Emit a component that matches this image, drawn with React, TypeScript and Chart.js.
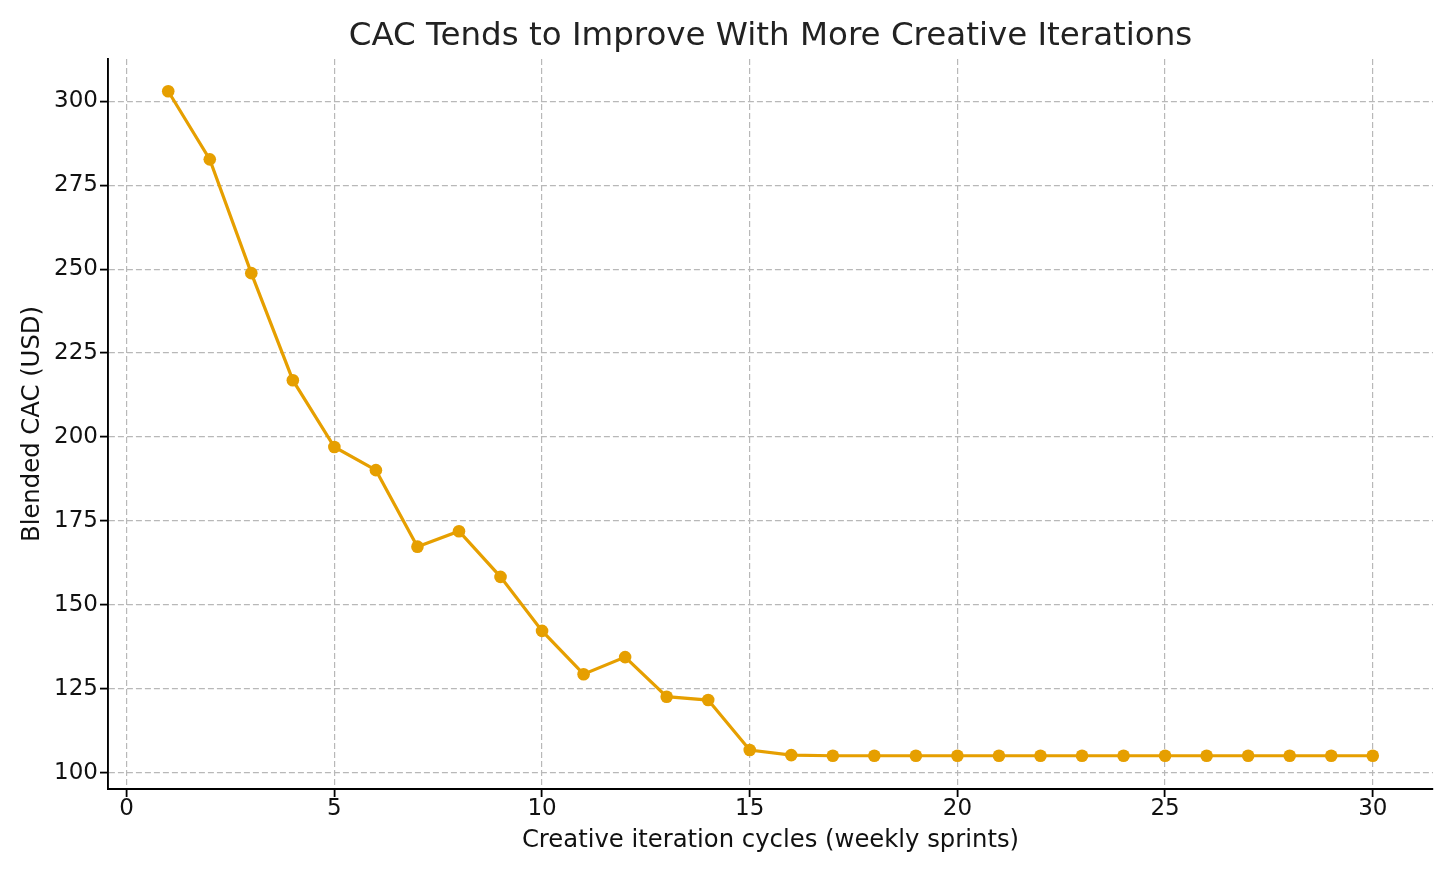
import React, { useEffect, useRef } from "react";
import { Chart, registerables } from "chart.js";

Chart.register(...registerables);

const chartTitle = "CAC Tends to Improve With More Creative Iterations";
const xAxisTitle = "Creative iteration cycles (weekly sprints)";
const yAxisTitle = "Blended CAC (USD)";

const cycles = [
  1, 2, 3, 4, 5, 6, 7, 8, 9, 10, 11, 12, 13, 14, 15,
  16, 17, 18, 19, 20, 21, 22, 23, 24, 25, 26, 27, 28, 29, 30,
];
const cacValues = [
  303.0, 282.7, 248.8, 216.9, 197.0, 190.1, 167.3, 171.9, 158.3, 142.2,
  129.3, 134.4, 122.6, 121.6, 106.7, 105.2, 105.0, 105.0, 105.0, 105.0,
  105.0, 105.0, 105.0, 105.0, 105.0, 105.0, 105.0, 105.0, 105.0, 105.0,
];
const xTickValues = [0, 5, 10, 15, 20, 25, 30];
const yTickValues = [100, 125, 150, 175, 200, 225, 250, 275, 300];

const FONT = "'DejaVu Sans', 'Liberation Sans', sans-serif";
const LINE_COLOR = "#E69F00";
const GRID_COLOR = "#b8b8b8";

export default function App() {
  const ref = useRef<HTMLCanvasElement | null>(null);

  useEffect(() => {
    document.body.style.margin = "0";
    const canvas = ref.current;
    if (!canvas) return;
    const chart = new Chart(canvas, {
      type: "line",
      data: {
        datasets: [
          {
            data: cycles.map((x, i) => ({ x, y: cacValues[i] })),
            borderColor: LINE_COLOR,
            backgroundColor: LINE_COLOR,
            borderWidth: 3.2,
            pointRadius: 6.3,
            pointBorderWidth: 0,
            pointBackgroundColor: LINE_COLOR,
            tension: 0,
            fill: false,
          },
        ],
      },
      options: {
        responsive: false,
        animation: false,
        devicePixelRatio: 1,
        layout: { padding: { left: 0, top: 0, right: 23, bottom: 0 } },
        plugins: {
          legend: { display: false },
          tooltip: { enabled: false },
          title: {
            display: true,
            text: chartTitle,
            fullSize: false,
            color: "#222222",
            font: { family: FONT, size: 32.5, weight: "normal", lineHeight: 1.2 },
            padding: { top: 17, bottom: 3 },
          },
        },
        scales: {
          x: {
            type: "linear",
            min: -0.45,
            max: 31.45,
            afterFit: (s: any) => {
              s.height = 85;
            },
            afterBuildTicks: (s: any) => {
              s.ticks = xTickValues.map((v) => ({ value: v }));
            },
            ticks: {
              color: "#111111",
              font: { family: FONT, size: 23 },
              padding: -2,
              maxRotation: 0,
              autoSkip: false,
              callback: (v: any) => String(v),
            },
            grid: {
              color: GRID_COLOR,
              lineWidth: 1.2,
              drawTicks: true,
              tickLength: 8,
              tickColor: "#000000",
              tickWidth: 1.8,
              tickBorderDash: [],
            },
            border: { display: true, color: "#000000", width: 1.9, dash: [6, 3] },
            title: {
              display: true,
              text: xAxisTitle,
              color: "#111111",
              font: { family: FONT, size: 24.3 },
              padding: { top: 0, bottom: 19 },
            },
          },
          y: {
            type: "linear",
            min: 95.1,
            max: 312.6,
            afterFit: (s: any) => {
              s.width = 108;
            },
            afterBuildTicks: (s: any) => {
              s.ticks = yTickValues.map((v) => ({ value: v }));
            },
            ticks: {
              color: "#111111",
              font: { family: FONT, size: 23 },
              padding: 2,
              autoSkip: false,
              callback: (v: any) => String(v),
            },
            grid: {
              color: GRID_COLOR,
              lineWidth: 1.2,
              drawTicks: true,
              tickLength: 8,
              tickColor: "#000000",
              tickWidth: 1.8,
              tickBorderDash: [],
            },
            border: { display: true, color: "#000000", width: 1.9, dash: [6, 3] },
            title: {
              display: true,
              text: yAxisTitle,
              color: "#111111",
              font: { family: FONT, size: 24.3 },
              padding: { top: 18, bottom: 0 },
            },
          },
        },
      },
    });
    return () => chart.destroy();
  }, []);

  return (
    <div style={{ width: 1456, height: 874 }}>
      <canvas ref={ref} width={1456} height={874} style={{ display: "block" }} />
    </div>
  );
}
